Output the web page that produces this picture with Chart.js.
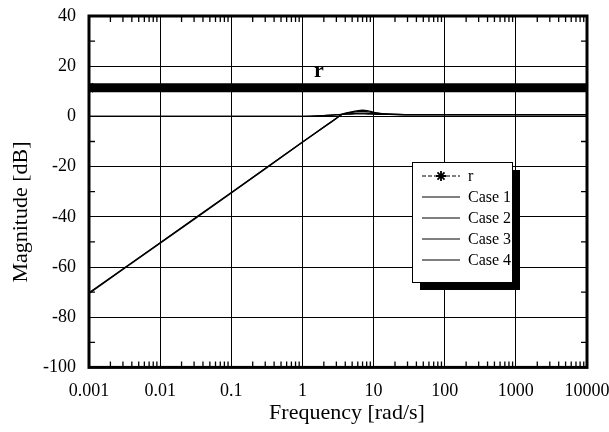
<!DOCTYPE html>
<html>
<head>
<meta charset="utf-8">
<script src="https://cdn.jsdelivr.net/npm/chart.js@4.4.1/dist/chart.umd.min.js"></script>
<style>html,body{margin:0;background:#fff}</style>
</head>
<body>
<div style="width:609px;height:432px"><canvas id="bode"></canvas></div>
<script>
// frequency grid [rad/s]
var freq = [0.001, 0.01, 0.1, 1, 2, 3, 3.6, 4.5, 5.5, 6.5, 7.5, 9, 11, 14, 20, 40, 100, 1000, 10000];
var case1 = [-70.5, -50.5, -30.5, -10.3, -4.3, -0.8, 0.8, 1.6, 2.1, 2.4, 2.4, 2.0, 1.4, 1.0, 0.8, 0.7, 0.7, 0.7, 0.7];
var case2 = [-70.3, -50.3, -30.3, -10.2, -4.2, -0.7, 0.8, 1.4, 1.8, 2.0, 2.0, 1.7, 1.3, 1.0, 0.8, 0.7, 0.7, 0.7, 0.7];
var case3 = [0, 0, 0, 0, 0.3, 0.6, 0.8, 1.0, 1.2, 1.3, 1.3, 1.2, 1.0, 0.9, 0.8, 0.7, 0.7, 0.7, 0.7];
var case4 = [0, 0, 0, 0.05, 0.35, 0.65, 0.8, 0.9, 1.0, 1.0, 1.0, 0.9, 0.8, 0.8, 0.7, 0.7, 0.7, 0.7, 0.7];
var rFreq = [0.001, 0.01, 0.1, 1, 10, 100, 1000, 10000];
var rVals = [11.4, 11.4, 11.4, 11.4, 11.4, 11.4, 11.4, 11.4];
var decades = [0.001, 0.01, 0.1, 1, 10, 100, 1000, 10000];
var xTickLabels = ['0.001', '0.01', '0.1', '1', '10', '100', '1000', '10000'];
var legendLabels = ['r', 'Case 1', 'Case 2', 'Case 3', 'Case 4'];
var xTitle = 'Frequency [rad/s]';
var yTitle = 'Magnitude [dB]';

var serif = "'Liberation Serif', 'DejaVu Serif', serif";

function pts(xs, ys) {
  return xs.map(function (x, i) { return { x: x, y: ys[i] }; });
}

var extras = {
  id: 'extras',
  afterDatasetsDraw: function (chart) {
    var c = chart.ctx, a = chart.chartArea;
    var xs = chart.scales.x, ys = chart.scales.y;
    c.save();
    c.strokeStyle = '#000';
    c.lineWidth = 1.3;
    c.beginPath();
    // minor ticks along top and bottom
    for (var i = 0; i < decades.length - 1; i++) {
      for (var k = 2; k <= 9; k++) {
        var px = xs.getPixelForValue(decades[i] * k);
        c.moveTo(px, a.bottom); c.lineTo(px, a.bottom - 6);
        c.moveTo(px, a.top); c.lineTo(px, a.top + 6);
      }
    }
    // minor ticks along left and right
    for (var v = -90; v < 40; v += 20) {
      var py = ys.getPixelForValue(v);
      c.moveTo(a.left, py); c.lineTo(a.left + 6, py);
      c.moveTo(a.right, py); c.lineTo(a.right - 6, py);
    }
    c.stroke();
    // frame
    c.lineWidth = 3;
    c.strokeRect(a.left, a.top, a.right - a.left, a.bottom - a.top);

    // "r" label over the reference line
    c.fillStyle = '#000';
    c.font = 'bold 22px ' + serif;
    c.textAlign = 'center';
    c.textBaseline = 'middle';
    c.fillText('r', xs.getPixelForValue(1.7), ys.getPixelForValue(18));

    // axis titles (placed a little off-centre, as in the original)
    c.font = '22px ' + serif;
    c.fillText(xTitle, 347, 413);
    c.save();
    c.translate(21, 212);
    c.rotate(-Math.PI / 2);
    c.fillText(yTitle, 0, 0);
    c.restore();

    // legend box with shadow
    var lx = 412, ly = 162, lw = 100, lh = 120;
    c.fillStyle = '#000';
    c.fillRect(lx + 8, ly + 8, lw, lh);
    c.fillStyle = '#fff';
    c.fillRect(lx, ly, lw, lh);
    c.lineWidth = 1;
    c.strokeStyle = '#000';
    c.strokeRect(lx + 0.5, ly + 0.5, lw, lh);
    c.font = '16px ' + serif;
    c.textAlign = 'left';
    c.fillStyle = '#000';
    legendLabels.forEach(function (lab, i) {
      var y = ly + 14 + i * 21;
      c.beginPath();
      c.lineWidth = 1;
      if (i === 0) c.setLineDash([4, 2]); else c.setLineDash([]);
      c.moveTo(lx + 10, y); c.lineTo(lx + 48, y);
      c.stroke();
      c.setLineDash([]);
      if (i === 0) {
        c.beginPath();
        for (var t = 0; t < 4; t++) {
          var ang = t * Math.PI / 4;
          c.moveTo(lx + 29 - 5 * Math.cos(ang), y - 5 * Math.sin(ang));
          c.lineTo(lx + 29 + 5 * Math.cos(ang), y + 5 * Math.sin(ang));
        }
        c.lineWidth = 1.8;
        c.stroke();
      }
      c.fillText(lab, lx + 56, y + 1);
    });
    c.restore();
  }
};

new Chart(document.getElementById('bode'), {
  type: 'line',
  data: {
    datasets: [
      { label: 'r', data: pts(rFreq, rVals), borderColor: '#000', borderWidth: 9,
        pointStyle: 'star', pointRadius: rVals.map(function (v, i) { return i === 0 ? 6 : 0; }),
        pointBorderColor: '#000', pointBorderWidth: 2 },
      { label: 'Case 1', data: pts(freq, case1), borderColor: '#000', borderWidth: 1.4, pointRadius: 0, tension: 0.3 },
      { label: 'Case 2', data: pts(freq, case2), borderColor: '#000', borderWidth: 1.2, pointRadius: 0, tension: 0.3 },
      { label: 'Case 3', data: pts(freq, case3), borderColor: '#000', borderWidth: 1.2, pointRadius: 0, tension: 0.3 },
      { label: 'Case 4', data: pts(freq, case4), borderColor: '#000', borderWidth: 1.2, pointRadius: 0, tension: 0.3 }
    ]
  },
  options: {
    responsive: true,
    maintainAspectRatio: false,
    animation: false,
    layout: { padding: { top: 0, right: 0, left: 2, bottom: 3 } },
    plugins: { legend: { display: false }, tooltip: { enabled: false } },
    scales: {
      x: {
        type: 'logarithmic', min: 0.001, max: 10000,
        afterBuildTicks: function (s) { s.ticks = decades.map(function (v) { return { value: v }; }); },
        afterFit: function (s) { s.paddingRight = 22; },
        ticks: {
          autoSkip: false, maxRotation: 0, color: '#000', padding: 13,
          font: { family: serif, size: 18 },
          callback: function (v) { var i = decades.indexOf(v); return i >= 0 ? xTickLabels[i] : ''; }
        },
        grid: { color: '#000', lineWidth: 1, drawTicks: false },
        border: { display: false },
        title: { display: true, text: xTitle, color: 'rgba(0,0,0,0)', font: { family: serif, size: 20 }, padding: { top: -10, bottom: 0 } }
      },
      y: {
        min: -100, max: 40,
        afterFit: function (s) { s.paddingTop = 16; },
        ticks: { stepSize: 20, color: '#000', padding: 13, font: { family: serif, size: 18 } },
        grid: { color: '#000', lineWidth: 1, drawTicks: false },
        border: { display: false },
        title: { display: true, text: yTitle, color: 'rgba(0,0,0,0)', font: { family: serif, size: 20 }, padding: { bottom: 0 } }
      }
    }
  },
  plugins: [extras]
});
</script>
</body>
</html>
